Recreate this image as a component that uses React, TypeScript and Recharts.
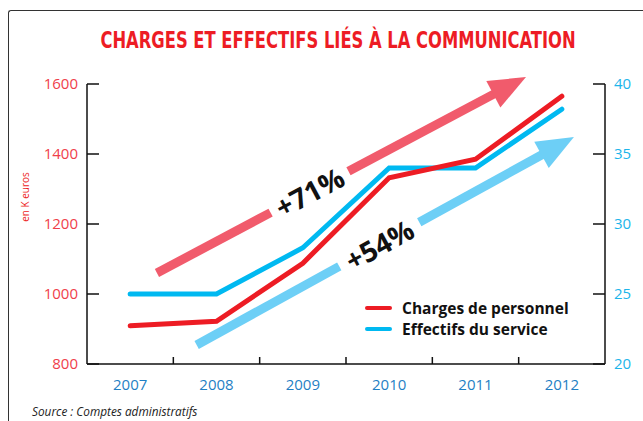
import { LineChart, Line, XAxis, YAxis, ReferenceLine, Legend } from 'recharts';

const YEARS = [2007, 2008, 2009, 2010, 2011, 2012];
const CHARGES = [909, 922, 1088, 1332, 1385, 1565];
const EFFECTIFS = [25, 25, 28.3, 34, 34, 38.2];
const LEFT_TICKS = [800, 1000, 1200, 1400, 1600];
const RIGHT_TICKS = [20, 25, 30, 35, 40];

// annotation arrows, in data units (tail -> tip)
const CHARGES_ARROW = [{ x: 2007.31, y: 1060 }, { x: 2011.585, y: 1620 }];
const EFFECTIFS_ARROW = [{ x: 2007.77, y: 21.36 }, { x: 2012.14, y: 36.21 }];

const SERIES = [
  { key: 'charges', name: 'Charges de personnel', color: '#ed1c24' },
  { key: 'effectifs', name: 'Effectifs du service', color: '#00b9f1' },
];

const data = YEARS.map((year, i) => ({ year, charges: CHARGES[i], effectifs: EFFECTIFS[i] }));

const W = 643;
const H = 421;
const PLOT_LEFT = 87;
const PLOT_RIGHT = 605;
const HALF_BAND = (PLOT_RIGHT - PLOT_LEFT) / YEARS.length / 2;
const FONT = '"Open Sans", Arial, sans-serif';

const YearTick = ({ x, y, payload }: any) => (
  <g>
    {payload.value !== YEARS[0] && (
      <line x1={x - HALF_BAND} x2={x - HALF_BAND} y1={y} y2={y - 7} stroke="#111" strokeWidth={1.5} />
    )}
    <text x={x} y={y + 20} textAnchor="middle" dominantBaseline="central" fill="#1f7fc4" fontSize={15} fontFamily={FONT}>
      {payload.value}
    </text>
  </g>
);

const makeArrow = (color: string, label: string, g0: number, g1: number) => (props: any) => {
  const { x1, y1, x2, y2 } = props;
  const dx = x2 - x1;
  const dy = y2 - y1;
  const L = Math.hypot(dx, dy);
  const ux = dx / L;
  const uy = dy / L;
  const nx = -uy;
  const ny = ux;
  const head = 37;
  const hw = 15;
  const sw = 9;
  const pt = (t: number, off: number) => `${x1 + ux * t + nx * off},${y1 + uy * t + ny * off}`;
  const shaft = (a: number, b: number) => [pt(a, -sw / 2), pt(b, -sw / 2), pt(b, sw / 2), pt(a, sw / 2)].join(' ');
  const tc = ((g0 + g1) / 2) * L;
  const cx = x1 + ux * tc;
  const cy = y1 + uy * tc;
  const ang = (Math.atan2(dy, dx) * 180) / Math.PI;
  return (
    <g>
      <polygon points={shaft(0, g0 * L)} fill={color} />
      <polygon points={shaft(g1 * L, L - head + 1)} fill={color} />
      <polygon points={[pt(L - head, -hw), pt(L, 0), pt(L - head, hw)].join(' ')} fill={color} />
      <text
        x={cx}
        y={cy}
        transform={`rotate(${ang} ${cx} ${cy})`}
        textAnchor="middle"
        dominantBaseline="central"
        fontSize={28}
        fontWeight={700}
        fontFamily={FONT}
        fill="#111"
      >
        {label}
      </text>
    </g>
  );
};

const LegendContent = () => (
  <div style={{ fontFamily: FONT }}>
    {SERIES.map((s) => (
      <div key={s.key} style={{ display: 'flex', alignItems: 'center', height: 21 }}>
        <div style={{ width: 27, height: 4, background: s.color, borderRadius: 2, marginRight: 10 }} />
        <span style={{ fontWeight: 700, fontSize: 15.5, color: '#111' }}>{s.name}</span>
      </div>
    ))}
  </div>
);

export default function App() {
  return (
    <div style={{ position: 'absolute', left: 0, top: 0, width: W, height: H, background: '#fff', overflow: 'hidden' }}>
      {/* frame */}
      <div
        style={{
          position: 'absolute',
          left: 8,
          top: 10,
          width: W,
          height: H,
          borderTop: '1.5px solid #333',
          borderLeft: '1.5px solid #333',
          borderTopLeftRadius: 3,
        }}
      />
      <div
        style={{
          position: 'absolute',
          left: 338,
          top: 26,
          transform: 'translateX(-50%) scaleX(0.79)',
          whiteSpace: 'nowrap',
          color: '#ed1c24',
          fontFamily: '"Liberation Sans Narrow", "DejaVu Sans Condensed", sans-serif',
          fontWeight: 700,
          fontSize: 23,
          lineHeight: '28px',
        }}
      >
        CHARGES ET EFFECTIFS LIÉS À LA COMMUNICATION
      </div>
      <div
        style={{
          position: 'absolute',
          left: 25,
          top: 197,
          transform: 'translate(-50%, -50%) rotate(-90deg)',
          color: '#ed1c24',
          fontFamily: FONT,
          fontSize: 10,
          whiteSpace: 'nowrap',
        }}
      >
        en K euros
      </div>
      <div
        style={{
          position: 'absolute',
          left: 32,
          top: 403,
          fontFamily: FONT,
          fontStyle: 'italic',
          fontSize: 11.8,
          color: '#222',
          whiteSpace: 'nowrap',
        }}
      >
        Source : Comptes administratifs
      </div>
      <div style={{ position: 'absolute', left: 0, top: 0 }}>
        <LineChart width={W} height={H} data={data} margin={{ top: 84, right: 0, bottom: 27, left: 27 }}>
          <XAxis
            dataKey="year"
            type="number"
            domain={[2006.5, 2012.5]}
            ticks={YEARS}
            tick={<YearTick />}
            tickLine={false}
            tickSize={0}
            tickMargin={0}
            height={30}
            axisLine={{ stroke: '#111', strokeWidth: 1.5 }}
          />
          <YAxis
            yAxisId="left"
            domain={[800, 1600]}
            ticks={LEFT_TICKS}
            width={60}
            tickSize={-12}
            tickMargin={21}
            tickLine={{ stroke: '#111', strokeWidth: 1.5 }}
            axisLine={{ stroke: '#111', strokeWidth: 1.5 }}
            tick={{ fill: '#ef3e4a', fontSize: 15, fontFamily: FONT }}
          />
          <YAxis
            yAxisId="right"
            orientation="right"
            domain={[20, 40]}
            ticks={RIGHT_TICKS}
            width={38}
            tickSize={-12}
            tickMargin={21}
            tickLine={{ stroke: '#111', strokeWidth: 1.5 }}
            axisLine={{ stroke: '#111', strokeWidth: 1.5 }}
            tick={{ fill: '#1cb5ea', fontSize: 15, fontFamily: FONT, textAnchor: 'start' }}
          />
          <ReferenceLine
            yAxisId="left"
            segment={CHARGES_ARROW}
            ifOverflow="visible"
            shape={makeArrow('#f15b6c', '+71%', 0.308, 0.519)}
          />
          <ReferenceLine
            yAxisId="right"
            segment={EFFECTIFS_ARROW}
            ifOverflow="visible"
            shape={makeArrow('#6dcff6', '+54%', 0.378, 0.59)}
          />
          <Line
            yAxisId="right"
            dataKey="effectifs"
            name={SERIES[1].name}
            stroke={SERIES[1].color}
            strokeWidth={5}
            strokeLinecap="round"
            dot={false}
            isAnimationActive={false}
          />
          <Line
            yAxisId="left"
            dataKey="charges"
            name={SERIES[0].name}
            stroke={SERIES[0].color}
            strokeWidth={5}
            strokeLinecap="round"
            dot={false}
            isAnimationActive={false}
          />
          <Legend
            layout="vertical"
            align="center"
            verticalAlign="middle"
            content={<LegendContent />}
            wrapperStyle={{ left: 365, top: 297, width: 230 }}
          />
        </LineChart>
      </div>
    </div>
  );
}
